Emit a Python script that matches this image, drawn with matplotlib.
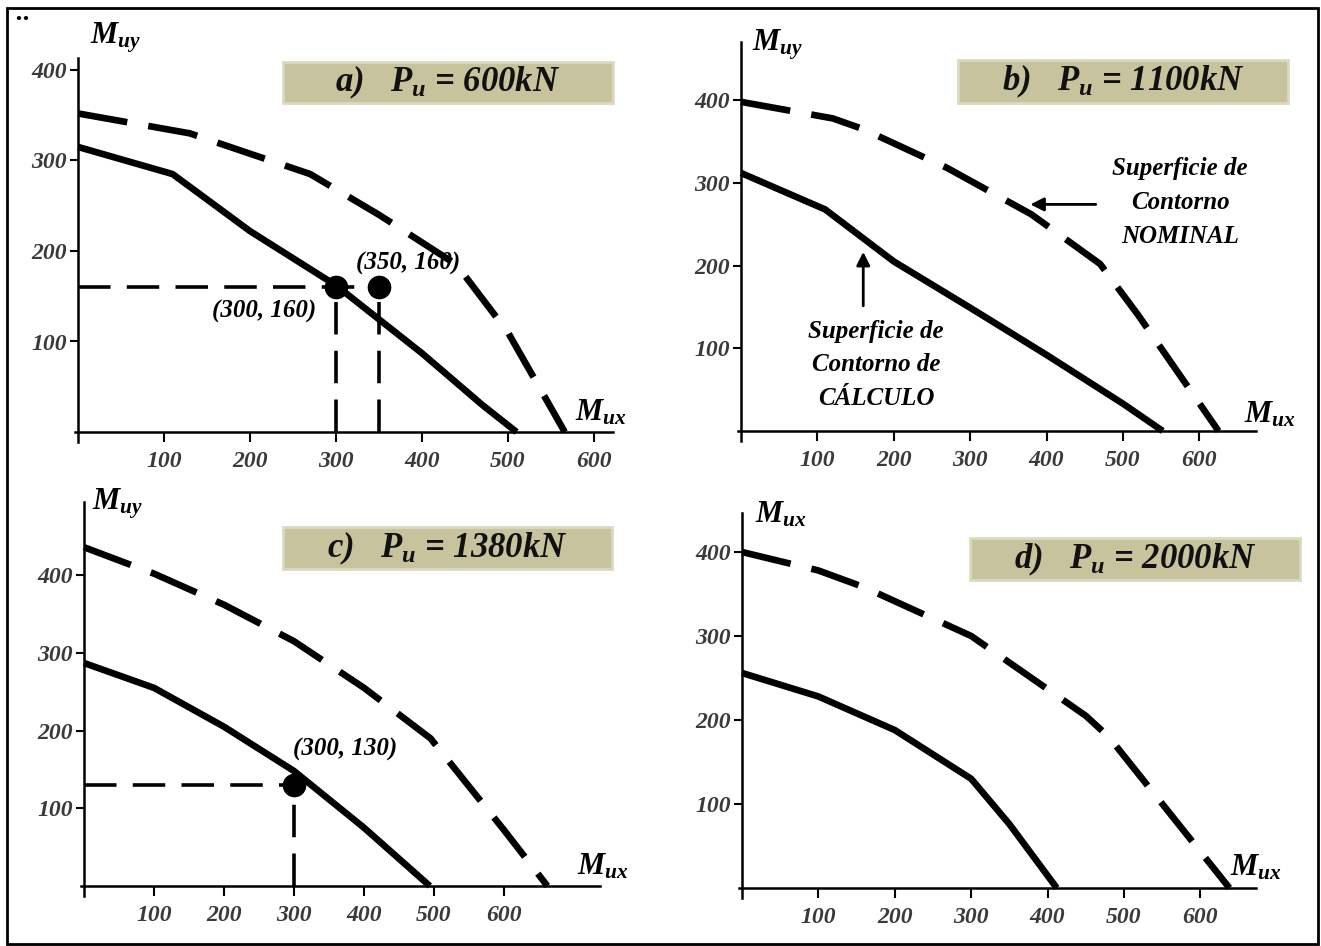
import matplotlib
matplotlib.use("Agg")
import matplotlib.pyplot as plt
from matplotlib.patches import Rectangle

# letra con serifa, negrita y cursiva (parecida a la del original)
FAM = "Liberation Serif"
plt.rcParams["font.family"] = [FAM, "DejaVu Serif"]
plt.rcParams["font.style"] = "italic"
plt.rcParams["font.weight"] = "bold"
plt.rcParams["mathtext.fontset"] = "custom"
plt.rcParams["mathtext.it"] = FAM + ":italic:bold"
plt.rcParams["mathtext.rm"] = FAM + ":italic:bold"
plt.rcParams["mathtext.bf"] = FAM + ":italic:bold"

# ---- datos (Mux, Muy en kN.m) ----
titulos = [r"a)   $P_u$ = 600kN", r"b)   $P_u$ = 1100kN",
           r"c)   $P_u$ = 1380kN", r"d)   $P_u$ = 2000kN"]
etiq_y = [r"$M_{uy}$", r"$M_{uy}$", r"$M_{uy}$", r"$M_{ux}$"]

# superficie de contorno de calculo (linea continua)
calc_a_x = [0, 110, 200, 300, 400, 470, 510]
calc_a_y = [315, 285, 222, 162, 87, 30, 0]
calc_b_x = [0, 110, 200, 300, 400, 500, 552]
calc_b_y = [312, 268, 205, 149, 92, 33, 0]
calc_c_x = [0, 100, 200, 300, 400, 494]
calc_c_y = [287, 255, 205, 148, 75, 0]
calc_d_x = [0, 100, 200, 300, 350, 412]
calc_d_y = [256, 228, 188, 130, 76, 0]

# superficie de contorno nominal (linea discontinua)
nom_a_x = [0, 130, 270, 350, 440, 500, 566]
nom_a_y = [352, 330, 285, 240, 185, 110, 0]
nom_b_x = [0, 120, 160, 270, 380, 470, 520, 625]
nom_b_y = [398, 378, 365, 318, 262, 202, 140, 0]
nom_c_x = [0, 100, 200, 300, 400, 495, 600, 662]
nom_c_y = [436, 402, 362, 315, 255, 190, 72, 0]
nom_d_x = [0, 100, 160, 300, 450, 480, 638]
nom_d_y = [400, 378, 358, 300, 205, 180, 0]

calc = [(calc_a_x, calc_a_y), (calc_b_x, calc_b_y), (calc_c_x, calc_c_y), (calc_d_x, calc_d_y)]
nom = [(nom_a_x, nom_a_y), (nom_b_x, nom_b_y), (nom_c_x, nom_c_y), (nom_d_x, nom_d_y)]

# puntos de diseno
puntos_a = [(300, 160), (350, 160)]
puntos_c = [(300, 130)]

xticks = [100, 200, 300, 400, 500, 600]
yticks = [100, 200, 300, 400]

W, H = 1321, 946
fig = plt.figure(figsize=(W / 100, H / 100), dpi=100)
fig.patch.set_facecolor("white")

# (origen x px, origen y px, px por unidad x, px por unidad y, xlim, ylim)
marcos = [
    (78, 432, 0.86, 0.905, (-4, 622), (-11, 413)),
    (741, 431, 0.764, 0.827, (-4, 674), (-12, 470)),
    (84, 886, 0.70, 0.777, (-4, 737), (-13, 494)),
    (742, 888, 0.764, 0.84, (-4, 673), (-12, 446)),
]
cajas = [(283, 62, 330, 41), (958, 60, 330, 43), (283, 527, 329, 42), (970, 538, 330, 42)]
pos_my = [(90, 38), (752, 45), (92, 504), (755, 515)]
pos_mx = [(575, 413), (1244, 415), (577, 867), (1230, 868)]


def colocar(ox, oy, sx, sy, xl, yl):
    izq = (ox + xl[0] * sx) / W
    der = (ox + xl[1] * sx) / W
    arriba = oy - yl[1] * sy
    abajo = oy - yl[0] * sy
    return [izq, 1 - abajo / H, der - izq, (abajo - arriba) / H]


ejes = []
for i, (ox, oy, sx, sy, xl, yl) in enumerate(marcos):
    ax = fig.add_axes(colocar(ox, oy, sx, sy, xl, yl))
    ax.set_xlim(*xl)
    ax.set_ylim(*yl)
    ax.patch.set_alpha(0)
    for s in ["top", "right"]:
        ax.spines[s].set_visible(False)
    ax.spines["left"].set_position(("data", 0))
    ax.spines["bottom"].set_position(("data", 0))
    ax.spines["left"].set_linewidth(1.8)
    ax.spines["bottom"].set_linewidth(1.8)
    ax.set_xticks(xticks)
    ax.set_yticks(yticks)
    ax.tick_params(axis="x", direction="out", length=7, width=1.5, pad=7,
                   labelsize=17, labelcolor="#3a3a3a")
    ax.tick_params(axis="y", direction="out", length=6, width=1.5, pad=2,
                   labelsize=17, labelcolor="#3a3a3a")

    cx, cy = calc[i]
    ax.plot(cx, cy, color="black", lw=4.8, solid_capstyle="butt")
    nx, ny = nom[i]
    ax.plot(nx, ny, color="black", lw=4.8, dashes=(7.5, 3.2), dash_capstyle="butt")
    ejes.append(ax)

    fig.text(pos_my[i][0] / W, 1 - pos_my[i][1] / H, etiq_y[i], fontsize=22,
             ha="left", va="center")
    fig.text(pos_mx[i][0] / W, 1 - pos_mx[i][1] / H, r"$M_{ux}$", fontsize=22,
             ha="left", va="center")

    bx, by, bw, bh = cajas[i]
    fig.add_artist(Rectangle((bx / W, 1 - (by + bh) / H), bw / W, bh / H,
                             transform=fig.transFigure, facecolor="#c7c39c",
                             edgecolor="#dcd9c2", lw=2))
    fig.text((bx + bw / 2) / W, 1 - (by + bh / 2) / H, titulos[i], fontsize=25,
             ha="center", va="center", color="#111111")

# puntos de diseno con lineas de referencia
for ax, pts in [(ejes[0], puntos_a), (ejes[2], puntos_c)]:
    xmax = max(p[0] for p in pts)
    ax.plot([0, xmax], [pts[0][1], pts[0][1]], color="black", lw=2.6, dashes=(9, 4.5))
    for px, py in pts:
        ax.plot([px, px], [0, py], color="black", lw=2.6, dashes=(9, 4.5))
        ax.plot(px, py, "o", color="black", markersize=16)

ejes[0].text(217, 133, "(300, 160)", fontsize=18, ha="center", va="center")
ejes[0].text(384, 186, "(350, 160)", fontsize=18, ha="center", va="center")
ejes[2].text(373, 176, "(300, 130)", fontsize=18, ha="center", va="center")

# anotaciones del panel b
axb = ejes[1]
axb.text(575, 276, "Superficie de\nContorno\nNOMINAL", fontsize=18, ha="center",
         va="center", linespacing=1.6)
axb.annotate("", xy=(375, 274), xytext=(468, 274),
             arrowprops=dict(arrowstyle="-|>,head_length=0.8,head_width=0.4", color="black", lw=2))
axb.text(177, 80, "Superficie de\nContorno de\nCÁLCULO", fontsize=18, ha="center",
         va="center", linespacing=1.6)
axb.annotate("", xy=(160, 220), xytext=(160, 148),
             arrowprops=dict(arrowstyle="-|>,head_length=0.8,head_width=0.4", color="black", lw=2))

# marco exterior
fig.add_artist(Rectangle((7 / W, 1 - 944 / H), 1311 / W, 936 / H, transform=fig.transFigure,
                         fill=False, edgecolor="black", lw=2))
fig.text(14 / W, 1 - 20 / H, "••", fontsize=9, ha="left", va="center",
         family="DejaVu Sans")

fig.savefig("out.png", dpi=100, facecolor="white")
